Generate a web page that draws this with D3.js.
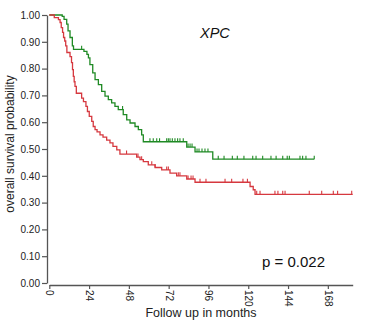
<!DOCTYPE html>
<html><head><meta charset="utf-8">
<script src="https://cdn.jsdelivr.net/npm/d3@7"></script>
<style>body{margin:0;background:#fff}svg{display:block}text{font-family:"Liberation Sans",Arial,sans-serif}</style>
</head><body><div id="chart"></div>
<script>
// Green group (higher survival)
const greenTimes = [7.8, 8.9, 10.5, 11.3, 12.5, 13.9, 14.6, 20.9, 22.7, 23.6, 24.5, 26.2, 27.6, 29.6, 31.6, 33.6, 35.6, 37.6, 39.6, 41.6, 44.6, 46.7, 48.7, 51.7, 53.7, 55.7, 56.7, 82.9, 87.9, 98.6];
const greenSurv  = [0.995, 0.984, 0.966, 0.941, 0.916, 0.885, 0.872, 0.864, 0.853, 0.840, 0.815, 0.784, 0.759, 0.740, 0.715, 0.697, 0.684, 0.672, 0.659, 0.647, 0.628, 0.609, 0.597, 0.584, 0.572, 0.553, 0.527, 0.507, 0.489, 0.462];
const greenEnd = 159.8;
const greenCensor = [19.5, 44.2, 60.7, 62.7, 64.8, 66.5, 70.8, 71.8, 72.8, 74.2, 75.8, 77.4, 78.8, 80.8, 83.7, 84.9, 86.1, 89.1, 90.3, 92.1, 93.9, 95.7, 101.9, 105.4, 110.4, 113.4, 117.4, 122.7, 124.7, 128.7, 133.7, 136.8, 140.8, 143.5, 144.8, 151.2, 152.8, 154.8, 159.8];
// Red group (lower survival)
const redTimes = [3.0, 5.5, 6.5, 7.2, 8.0, 8.6, 9.3, 9.9, 10.6, 12.5, 13.4, 14.0, 14.5, 15.0, 15.5, 16.3, 19.5, 20.6, 22.1, 23.0, 24.1, 25.6, 26.5, 27.6, 28.8, 30.6, 32.4, 34.6, 36.6, 38.4, 40.7, 42.6, 52.7, 54.7, 56.7, 59.7, 63.8, 67.8, 72.8, 76.8, 82.9, 87.9, 121.1, 123.0, 124.1];
const redSurv  = [0.99, 0.983, 0.972, 0.953, 0.935, 0.916, 0.903, 0.885, 0.860, 0.845, 0.822, 0.796, 0.771, 0.751, 0.734, 0.708, 0.690, 0.677, 0.659, 0.640, 0.622, 0.603, 0.584, 0.572, 0.564, 0.553, 0.544, 0.533, 0.523, 0.510, 0.497, 0.481, 0.470, 0.460, 0.453, 0.441, 0.431, 0.422, 0.410, 0.400, 0.388, 0.376, 0.360, 0.348, 0.331];
const redEnd = 183;
const redCensor = [46.6, 53.5, 55.7, 61.8, 63.8, 70.8, 71.8, 77.8, 78.8, 83.7, 85.5, 86.7, 90.9, 94.5, 106, 110, 116.8, 119.5, 125.1, 127.1, 136.1, 137.9, 140.8, 142.2, 156.8, 164.3, 171.3, 173.9, 182.4];

const xTicks = [0, 24, 48, 72, 96, 120, 144, 168];
const yTicks = [0, 0.1, 0.2, 0.3, 0.4, 0.5, 0.6, 0.7, 0.8, 0.9, 1.0];

const W = 375, H = 328;
const svg = d3.select("#chart").append("svg").attr("width", W).attr("height", H);

const x = d3.scaleLinear().domain([0, 183]).range([49.3, 352.7]);
const y = d3.scaleLinear().domain([0, 1]).range([283, 15]);

const axisColor = "#555";
// Y axis
const ya = svg.append("g").attr("transform", "translate(47,0)")
  .call(d3.axisLeft(y).tickValues(yTicks).tickFormat(d3.format(".2f")).tickSize(5).tickSizeOuter(0).tickPadding(2));
ya.select(".domain").attr("stroke", axisColor).attr("stroke-width", 1.3);
ya.selectAll(".tick line").attr("stroke", axisColor).attr("stroke-width", 1.2);
ya.selectAll(".tick text").attr("font-size", 10).attr("fill", "#222").attr("font-family", "Liberation Sans, Arial, sans-serif");

// X axis
const xa = svg.append("g").attr("transform", "translate(0,285)")
  .call(d3.axisBottom(x).tickValues(xTicks).tickSize(4).tickSizeOuter(0));
xa.select(".domain").attr("stroke", axisColor).attr("stroke-width", 1.3);
xa.selectAll(".tick line").attr("stroke", axisColor).attr("stroke-width", 1.2);
xa.selectAll(".tick text")
  .attr("font-size", 10).attr("fill", "#222").attr("font-family", "Liberation Sans, Arial, sans-serif")
  .attr("transform", "rotate(90)").attr("text-anchor", "start").attr("dy", "0.35em").attr("x", 5).attr("y", 0);

svg.append("text").attr("x", 201).attr("y", 317).attr("text-anchor", "middle")
  .attr("font-size", 12.5).attr("fill", "#222").text("Follow up in months");
svg.append("text").attr("transform", "translate(14,144) rotate(-90)").attr("text-anchor", "middle")
  .attr("font-size", 12).attr("fill", "#222").text("overall survival probability");

function buildPoints(times, surv, end) {
  const pts = [[0, 1]];
  times.forEach((t, i) => pts.push([t, surv[i]]));
  pts.push([end, surv[surv.length - 1]]);
  return pts;
}
function survAt(times, surv, t) {
  let s = 1;
  for (let i = 0; i < times.length; i++) { if (times[i] <= t) s = surv[i]; }
  return s;
}
const line = d3.line().x(d => x(d[0])).y(d => y(d[1])).curve(d3.curveStepAfter);

function drawGroup(times, surv, end, censor, color) {
  svg.append("path").datum(buildPoints(times, surv, end))
    .attr("fill", "none").attr("stroke", color).attr("stroke-width", 1.3).attr("d", line);
  svg.append("g").selectAll("line").data(censor).join("line")
    .attr("x1", d => x(d)).attr("x2", d => x(d))
    .attr("y1", d => y(survAt(times, surv, d)))
    .attr("y2", d => y(survAt(times, surv, d)) - 3.5)
    .attr("stroke", color).attr("stroke-width", 1.1);
}
drawGroup(greenTimes, greenSurv, greenEnd, greenCensor, "#1f8a24");
drawGroup(redTimes, redSurv, redEnd, redCensor, "#d6383f");

svg.append("text").attr("x", 200).attr("y", 38).attr("font-size", 14.5).attr("font-style", "italic")
  .attr("fill", "#111").text("XPC");
svg.append("text").attr("x", 262).attr("y", 267).attr("font-size", 15)
  .attr("fill", "#111").text("p = 0.022");
</script></body></html>
